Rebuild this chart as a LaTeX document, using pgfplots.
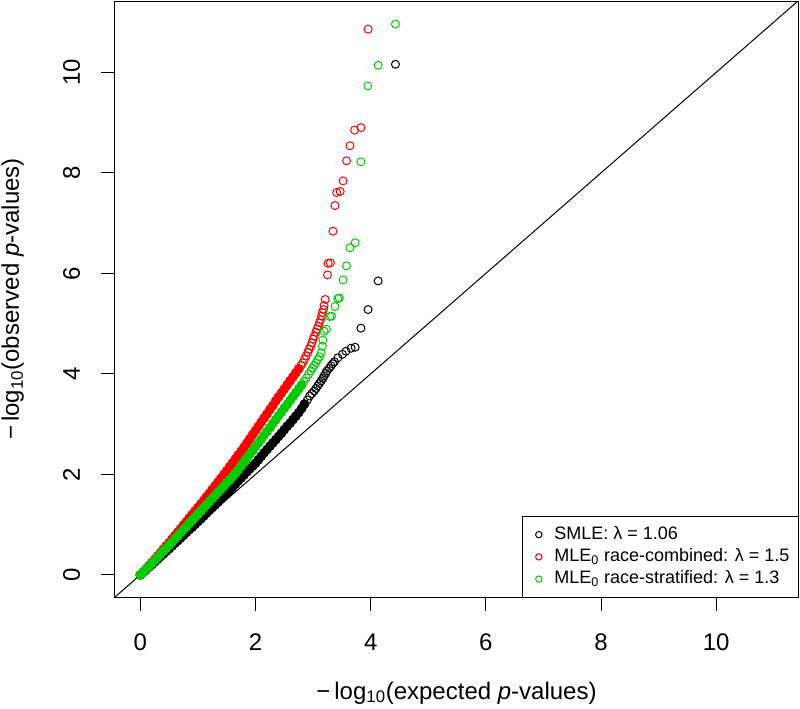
\documentclass[border=0pt]{standalone}
\usepackage{fontspec}
\setmainfont{Liberation Sans}
\usepackage{pgfplots}
\pgfplotsset{compat=1.18}
\definecolor{rred}{RGB}{255,0,0}
\definecolor{rgreen}{RGB}{0,205,0}

% dense part of each curve
\newcommand{\smleband}{(0.00,0.00)(0.05,0.05)(0.10,0.10)(0.15,0.155)(0.20,0.205)(0.25,0.26)(0.30,0.31)(0.35,0.365)(0.40,0.415)(0.45,0.47)(0.50,0.52)(0.55,0.575)(0.60,0.63)(0.65,0.68)(0.70,0.735)(0.75,0.79)(0.80,0.845)(0.85,0.90)(0.90,0.95)(0.95,1.005)(1.00,1.06)(1.05,1.115)(1.10,1.17)(1.15,1.23)(1.20,1.285)(1.25,1.34)(1.30,1.395)(1.35,1.45)(1.40,1.51)(1.45,1.565)(1.50,1.62)(1.55,1.68)(1.60,1.745)(1.65,1.805)(1.70,1.87)(1.75,1.93)(1.80,1.99)(1.85,2.05)(1.90,2.11)(1.95,2.165)(2.00,2.22)(2.05,2.29)(2.10,2.36)(2.15,2.43)(2.20,2.495)(2.25,2.56)(2.30,2.625)(2.35,2.69)(2.40,2.755)(2.45,2.82)(2.50,2.89)(2.55,2.96)(2.60,3.02)(2.65,3.09)(2.70,3.16)(2.75,3.23)(2.80,3.31)(2.85,3.40)}
\newcommand{\combband}{(0.00,0.00)(0.05,0.06)(0.10,0.12)(0.15,0.185)(0.20,0.245)(0.25,0.31)(0.30,0.375)(0.35,0.44)(0.40,0.51)(0.45,0.575)(0.50,0.64)(0.55,0.71)(0.60,0.78)(0.65,0.85)(0.70,0.92)(0.75,0.99)(0.80,1.06)(0.85,1.13)(0.90,1.20)(0.95,1.27)(1.00,1.34)(1.05,1.41)(1.10,1.48)(1.15,1.555)(1.20,1.625)(1.25,1.70)(1.30,1.775)(1.35,1.85)(1.40,1.92)(1.45,1.995)(1.50,2.07)(1.55,2.15)(1.60,2.23)(1.65,2.305)(1.70,2.385)(1.75,2.46)(1.80,2.54)(1.85,2.62)(1.90,2.705)(1.95,2.79)(2.00,2.87)(2.05,2.955)(2.10,3.04)(2.15,3.12)(2.20,3.205)(2.25,3.29)(2.30,3.37)(2.35,3.46)(2.40,3.54)(2.45,3.62)(2.50,3.70)(2.55,3.78)(2.60,3.86)(2.65,3.94)(2.70,4.02)(2.75,4.10)}
\newcommand{\stratband}{(0.00,0.00)(0.05,0.055)(0.10,0.115)(0.15,0.17)(0.20,0.23)(0.25,0.29)(0.30,0.35)(0.35,0.41)(0.40,0.47)(0.45,0.53)(0.50,0.59)(0.55,0.65)(0.60,0.715)(0.65,0.775)(0.70,0.84)(0.75,0.90)(0.80,0.96)(0.85,1.025)(0.90,1.085)(0.95,1.15)(1.00,1.21)(1.05,1.27)(1.10,1.335)(1.15,1.395)(1.20,1.46)(1.25,1.52)(1.30,1.58)(1.35,1.645)(1.40,1.705)(1.45,1.77)(1.50,1.83)(1.55,1.89)(1.60,1.95)(1.65,2.015)(1.70,2.09)(1.75,2.165)(1.80,2.24)(1.85,2.32)(1.90,2.395)(1.95,2.47)(2.00,2.55)(2.05,2.625)(2.10,2.70)(2.15,2.78)(2.20,2.855)(2.25,2.93)(2.30,3.01)(2.35,3.085)(2.40,3.165)(2.45,3.24)(2.50,3.32)(2.55,3.395)(2.60,3.47)(2.65,3.55)(2.70,3.625)(2.75,3.70)(2.80,3.78)}

\begin{document}
\begin{tikzpicture}
\begin{axis}[
  name=ax, at={(0,0)}, anchor=south west,
  scale only axis, width=512.25pt, height=447pt,
  xmin=-0.44, xmax=11.42, ymin=-0.44, ymax=11.42,
  xtick={0,2,...,10}, ytick={0,2,...,10},
  tick pos=left, tick align=outside, major tick length=10.5pt,
  every tick/.style={black, line width=0.75pt},
  axis line style={line width=0.75pt},
  /pgf/number format/assume math mode=true,
  ticklabel style={font=\fontsize{18}{21}\selectfont, inner sep=0pt},
  xticklabel style={anchor=base, yshift=-29.25pt},
  yticklabel style={xshift=-15.75pt, rotate=90, anchor=base},
  xlabel={−\,log\textsubscript{10}(expected \textit{p}-values)},
  ylabel={−\,log\textsubscript{10}(observed \textit{p}-values)},
  every axis x label/.style={at={([yshift=-76.5pt]axis description cs:0.5,0)}, anchor=base,
    font=\fontsize{18}{21}\selectfont, inner sep=0pt},
  every axis y label/.style={at={([xshift=-72pt]axis description cs:0,0.5)}, rotate=90, anchor=base,
    font=\fontsize{18}{21}\selectfont, inner sep=0pt},
  legend style={at={(1,0)}, anchor=south east, draw=black, line width=0.75pt, fill=white,
    outer sep=0pt, inner xsep=6.5pt, inner ysep=7.8pt, row sep=5.5pt,
    font=\fontsize{13.5}{16}\selectfont,
    nodes={inner sep=0pt, text height=0.92em, text depth=0.2em},
    /tikz/every odd column/.append style={column sep=8.5pt}},
  legend cell align=left,
  legend image code/.code={\path (-5.5pt,0pt) (2.8pt,0pt);
    \draw[#1, mark size=2.4pt] plot coordinates {(0pt,0pt)};},
]
\addplot[black, line width=0.75pt, forget plot] coordinates {(-0.44,-0.44) (11.42,11.42)};

\addplot[black, only marks, mark=*, mark size=3.3pt, mark options={line width=0.75pt}, forget plot] coordinates {\smleband};
\addplot[black, only marks, mark=o, mark size=3pt, mark options={line width=0.75pt}] coordinates {
(2.90,3.48)(2.94,3.56)(2.98,3.61)(3.02,3.66)(3.05,3.71)(3.08,3.76)(3.11,3.81)(3.14,3.86)(3.17,3.91)(3.19,3.96)(3.22,4.01)(3.24,4.06)(3.28,4.11)(3.31,4.16)(3.34,4.20)(3.37,4.24)(3.43,4.32)(3.51,4.39)(3.57,4.45)(3.66,4.51)(3.73,4.53)(3.83,4.91)(3.955,5.28)(4.13,5.85)(4.43,10.16)};
\addlegendentry{SMLE: λ = 1.06}

\addplot[rred, only marks, mark=*, mark size=3.3pt, mark options={line width=0.75pt}, forget plot] coordinates {\combband};
\addplot[rred, only marks, mark=o, mark size=3pt, mark options={line width=0.75pt}] coordinates {
(2.79,4.17)(2.82,4.22)(2.85,4.29)(2.88,4.36)(2.91,4.43)(2.93,4.49)(2.96,4.55)(2.98,4.62)(3.00,4.69)(3.02,4.75)(3.05,4.83)(3.07,4.89)(3.09,4.95)(3.11,5.02)(3.13,5.08)(3.15,5.15)(3.16,5.22)(3.18,5.28)(3.19,5.36)(3.21,5.48)(3.25,5.97)(3.26,6.20)(3.30,6.21)(3.345,6.84)(3.38,7.35)(3.41,7.61)(3.47,7.63)(3.52,7.84)(3.58,8.24)(3.64,8.54)(3.72,8.85)(3.83,8.90)(3.955,10.86)};
\addlegendentry{MLE\textsubscript{0} race-combined: λ = 1.5}

\addplot[rgreen, only marks, mark=*, mark size=3.3pt, mark options={line width=0.75pt}, forget plot] coordinates {\stratband};
\addplot[rgreen, only marks, mark=o, mark size=3pt, mark options={line width=0.75pt}] coordinates {
(2.84,3.85)(2.88,3.92)(2.92,3.99)(2.96,4.06)(2.99,4.12)(3.02,4.17)(3.05,4.22)(3.08,4.28)(3.11,4.34)(3.14,4.42)(3.16,4.55)(3.17,4.67)(3.19,4.85)(3.23,4.89)(3.29,5.14)(3.32,5.15)(3.38,5.34)(3.43,5.50)(3.455,5.51)(3.52,5.87)(3.58,6.15)(3.64,6.51)(3.73,6.61)(3.83,8.22)(3.95,9.73)(4.13,10.14)(4.43,10.96)};
\addlegendentry{MLE\textsubscript{0} race-stratified: λ = 1.3}
\end{axis}
\pgfresetboundingbox
\useasboundingbox (-86.25pt,-83.25pt) rectangle (513.75pt,447.75pt);
\end{tikzpicture}
\end{document}
